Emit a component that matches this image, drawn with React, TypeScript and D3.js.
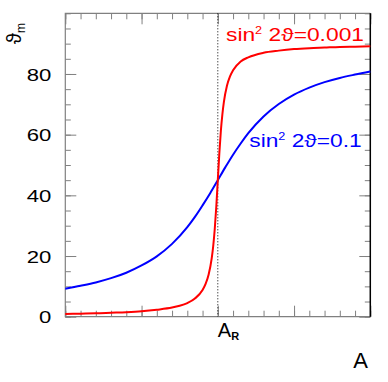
import * as d3 from 'd3'
import { useRef, useEffect } from 'react'

// A / A_R, and the mixing angle in matter (degrees)
const xBlue = [0, 0.1, 0.2, 0.3, 0.4, 0.5, 0.6, 0.7, 0.8, 0.85, 0.9, 0.95, 1.0, 1.05, 1.1, 1.15, 1.2, 1.3, 1.4, 1.5, 1.6, 1.7, 1.8, 1.9, 2.0];
const thetaBlue = [9.2, 10.2, 11.3, 12.7, 14.5, 16.9, 19.9, 24.0, 29.5, 32.9, 36.7, 40.7, 45.0, 49.3, 53.4, 57.1, 60.5, 66.0, 70.1, 73.2, 75.5, 77.3, 78.7, 79.8, 80.8];

const xRed = [0, 0.1, 0.2, 0.3, 0.4, 0.5, 0.6, 0.7, 0.75, 0.8, 0.85, 0.9, 0.92, 0.94, 0.96, 0.97, 0.98, 0.99, 1.0, 1.01, 1.02, 1.03, 1.04, 1.06, 1.08, 1.1, 1.15, 1.2, 1.3, 1.4, 1.5, 1.6, 1.7, 1.8, 1.9, 2.0];
const thetaRed = [0.9, 1.0, 1.1, 1.3, 1.5, 1.8, 2.3, 3.0, 3.6, 4.5, 6.0, 8.8, 10.8, 13.9, 19.2, 23.3, 28.9, 36.2, 45.0, 53.8, 61.2, 66.7, 70.8, 76.1, 79.2, 81.2, 84.1, 85.5, 87.0, 87.7, 88.2, 88.5, 88.7, 88.9, 89.0, 89.1];

const yMajor = [0, 20, 40, 60, 80];
const yMinor = d3.range(0, 101, 5);
const xMajor = [0, 0.5, 1, 1.5, 2];
const xMinor = d3.range(0, 21).map(i => i / 10);
const resonance = 1;

const FONT = 'Liberation Sans, Arial, Helvetica, sans-serif';

function App() {
    const svgRef = useRef<SVGSVGElement>(null);

    useEffect(() => {
        const svg = d3.select(svgRef.current);
        svg.selectAll('*').remove();

        const left = 65.3, right = 370.3, top = 13.3, bottom = 316.7;
        const x = d3.scaleLinear().domain([0, 2]).range([left, right]);
        const y = d3.scaleLinear().domain([0, 100]).range([bottom, top]);
        const gray = '#808080';

        const styleAxis = (g, labels) => {
            g.select('.domain').remove();
            g.selectAll('line').attr('stroke', gray).attr('stroke-width', 1);
            if (!labels) g.selectAll('text').remove();
        };

        // left axis
        svg.append('g').attr('transform', `translate(${left},0)`)
            .call(d3.axisLeft(y).tickValues(yMinor).tickSize(-5.5).tickFormat(() => ''))
            .call(g => styleAxis(g, false));
        svg.append('g').attr('transform', `translate(${left},0)`)
            .call(d3.axisLeft(y).tickValues(yMajor).tickSize(-11).tickPadding(14).tickFormat(d3.format('d')))
            .call(g => {
                styleAxis(g, true);
                g.selectAll('text')
                    .attr('font-family', FONT)
                    .attr('font-size', 17)
                    .attr('fill', '#000')
                    .attr('dy', '0.36em')
                    .attr('textLength', d => String(d).length * 12.3)
                    .attr('lengthAdjust', 'spacingAndGlyphs');
            });
        // right axis
        svg.append('g').attr('transform', `translate(${right},0)`)
            .call(d3.axisRight(y).tickValues(yMinor).tickSize(-5.5))
            .call(g => styleAxis(g, false));
        svg.append('g').attr('transform', `translate(${right},0)`)
            .call(d3.axisRight(y).tickValues(yMajor).tickSize(-11))
            .call(g => styleAxis(g, false));
        // bottom axis
        svg.append('g').attr('transform', `translate(0,${bottom})`)
            .call(d3.axisBottom(x).tickValues(xMinor).tickSize(-6))
            .call(g => styleAxis(g, false));
        svg.append('g').attr('transform', `translate(0,${bottom})`)
            .call(d3.axisBottom(x).tickValues(xMajor).tickSize(-11))
            .call(g => styleAxis(g, false));
        // top axis
        svg.append('g').attr('transform', `translate(0,${top})`)
            .call(d3.axisTop(x).tickValues(xMinor).tickSize(-6))
            .call(g => styleAxis(g, false));
        svg.append('g').attr('transform', `translate(0,${top})`)
            .call(d3.axisTop(x).tickValues(xMajor).tickSize(-11))
            .call(g => styleAxis(g, false));

        // frame
        svg.append('path')
            .attr('d', `M${right},${bottom}H${left}V${top}H${right}`)
            .attr('fill', 'none').attr('stroke', gray).attr('stroke-width', 1.2);
        svg.append('line')
            .attr('x1', right).attr('x2', right).attr('y1', top).attr('y2', bottom)
            .attr('stroke', '#000').attr('stroke-width', 1.5);

        // resonance marker
        svg.append('line')
            .attr('x1', x(resonance)).attr('x2', x(resonance))
            .attr('y1', top).attr('y2', bottom)
            .attr('stroke', '#000').attr('stroke-width', 1)
            .attr('stroke-dasharray', '1,2');

        const line = d3.line<[number, number]>()
            .x(d => x(d[0]))
            .y(d => y(d[1]))
            .curve(d3.curveMonotoneX);

        svg.append('path')
            .datum(xBlue.map((v, i) => [v, thetaBlue[i]] as [number, number]))
            .attr('fill', 'none').attr('stroke', '#0000ff').attr('stroke-width', 2)
            .attr('d', line);
        svg.append('path')
            .datum(xRed.map((v, i) => [v, thetaRed[i]] as [number, number]))
            .attr('fill', 'none').attr('stroke', '#ff0000').attr('stroke-width', 2)
            .attr('d', line);

        // curve labels
        const label = (tx, ty, width, value, color) => {
            const t = svg.append('text')
                .attr('x', tx).attr('y', ty)
                .attr('font-family', FONT).attr('font-size', 18)
                .attr('fill', color)
                .attr('textLength', width)
                .attr('lengthAdjust', 'spacingAndGlyphs');
            t.append('tspan').text('sin');
            t.append('tspan').attr('font-size', 10).attr('dy', -7).text('2');
            t.append('tspan').attr('dy', 7).text(' 2\u03d1=' + value);
        };
        label(226, 40.5, 138, '0.001', '#ff0000');
        label(249.3, 147, 112.3, '0.1', '#0000ff');

        // axis titles
        const yt = svg.append('text')
            .attr('transform', 'translate(21,44) rotate(-90)')
            .attr('font-family', FONT).attr('font-size', 20).attr('fill', '#000');
        yt.append('tspan').text('\u03d1');
        yt.append('tspan').attr('font-size', 12).attr('dy', 4).text('m');

        const ar = svg.append('text')
            .attr('x', x(resonance)).attr('y', 337.3)
            .attr('font-family', FONT).attr('font-size', 20).attr('fill', '#000');
        ar.append('tspan').text('A');
        ar.append('tspan').attr('font-size', 11).attr('font-weight', 'bold').attr('dy', 3).text('R');

        svg.append('text')
            .attr('x', 360.7).attr('y', 368)
            .attr('text-anchor', 'middle')
            .attr('font-family', FONT).attr('font-size', 22).attr('fill', '#000')
            .text('A');
    }, []);

    return (
        <svg ref={svgRef} width={388} height={382}
            style={{ position: 'absolute', left: 0, top: 0, background: '#fff' }} />
    )
}

export default App;
